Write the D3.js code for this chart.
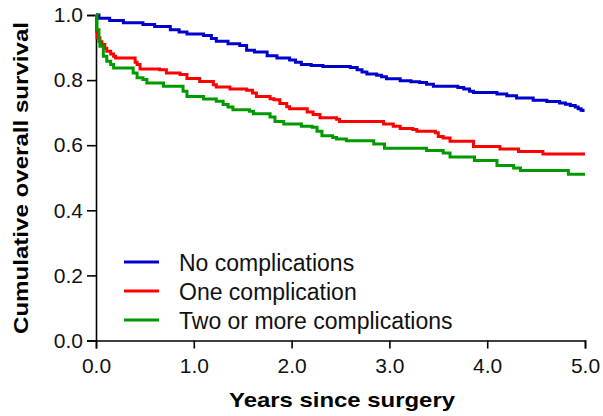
<!DOCTYPE html>
<html>
<head>
<meta charset="utf-8">
<script src="https://cdn.jsdelivr.net/npm/d3@7"></script>
<style>
  body { margin: 0; background: #fff; }
  text { font-family: "Liberation Sans", Arial, sans-serif; }
</style>
</head>
<body>
<script>
// Kaplan-Meier steps: [years, survival]
var noComp = [[0,1.0],[0.03,0.99],[0.14,0.983],[0.28,0.976],[0.48,0.971],[0.6,0.965],[0.76,0.955],[0.85,0.948],
	[0.93,0.942],[1.1,0.937],[1.18,0.928],[1.23,0.919],[1.35,0.912],[1.47,0.906],[1.54,0.892],[1.62,0.886],
	[1.75,0.875],[1.85,0.868],[1.98,0.862],[2.04,0.855],[2.1,0.848],[2.2,0.845],[2.32,0.842],[2.6,0.839],
	[2.67,0.832],[2.72,0.825],[2.77,0.819],[2.87,0.815],[2.92,0.81],[2.97,0.804],[3.11,0.798],[3.22,0.795],
	[3.31,0.793],[3.38,0.787],[3.45,0.781],[3.7,0.777],[3.76,0.773],[3.82,0.766],[3.86,0.762],[4.1,0.757],
	[4.2,0.752],[4.3,0.745],[4.47,0.738],[4.61,0.734],[4.74,0.730],[4.8,0.726],[4.85,0.722],[4.9,0.717],
	[4.93,0.712],[4.96,0.707],[4.98,0.702]];
var oneComp = [[0,1.0],[0.005,0.95],[0.01,0.93],[0.04,0.918],[0.06,0.909],[0.09,0.898],[0.11,0.889],[0.15,0.88],
	[0.18,0.873],[0.2,0.868],[0.4,0.855],[0.42,0.848],[0.45,0.834],[0.65,0.832],[0.72,0.822],[0.86,0.817],
	[0.93,0.805],[1.06,0.796],[1.2,0.786],[1.23,0.779],[1.37,0.773],[1.54,0.769],[1.6,0.760],[1.64,0.750],
	[1.78,0.743],[1.82,0.740],[1.88,0.728],[1.95,0.718],[1.98,0.712],[2.16,0.702],[2.22,0.694],[2.29,0.684],
	[2.46,0.680],[2.49,0.673],[2.94,0.665],[3.04,0.658],[3.11,0.651],[3.24,0.648],[3.28,0.643],[3.47,0.638],
	[3.50,0.627],[3.55,0.622],[3.62,0.612],[3.86,0.596],[4.13,0.588],[4.32,0.581],[4.57,0.573],[5.0,0.573]];
var twoComp = [[0,1.0],[0.01,0.955],[0.03,0.92],[0.04,0.904],[0.075,0.873],[0.11,0.858],[0.15,0.848],[0.18,0.837],
	[0.38,0.822],[0.42,0.807],[0.48,0.802],[0.52,0.791],[0.69,0.781],[0.89,0.766],[0.93,0.750],[1.1,0.742],
	[1.23,0.735],[1.3,0.725],[1.35,0.717],[1.4,0.709],[1.57,0.704],[1.61,0.697],[1.78,0.687],[1.83,0.673],
	[1.92,0.665],[2.1,0.658],[2.21,0.655],[2.26,0.643],[2.31,0.629],[2.42,0.624],[2.46,0.619],[2.56,0.614],
	[2.84,0.604],[2.95,0.591],[3.38,0.584],[3.55,0.576],[3.62,0.564],[3.87,0.553],[4.10,0.538],[4.27,0.530],
	[4.34,0.522],[4.83,0.511],[5.0,0.511]];

var seriesNames = ['No complications', 'One complication', 'Two or more complications'];
var seriesColors = ['#0000cd', '#ff0000', '#009a00'];
var xTicks = [0, 1, 2, 3, 4, 5];
var yTicks = [0, 0.2, 0.4, 0.6, 0.8, 1.0];

var width = 603, height = 416;
var margin = {top: 15, right: 18, bottom: 75.5, left: 96};

var svg = d3.select('body').append('svg')
	.attr('width', width)
	.attr('height', height);

var x = d3.scaleLinear().domain([0, 5]).range([margin.left, width - margin.right]);
var y = d3.scaleLinear().domain([0, 1]).range([height - margin.bottom, margin.top]);

// axes
var gx = svg.append('g')
	.attr('transform', 'translate(0,' + (height - margin.bottom) + ')')
	.call(d3.axisBottom(x).tickValues(xTicks).tickSize(8).tickPadding(10).tickFormat(d3.format('.1f')));
var gy = svg.append('g')
	.attr('transform', 'translate(' + margin.left + ',0)')
	.call(d3.axisLeft(y).tickValues(yTicks).tickSize(9).tickPadding(4).tickFormat(d3.format('.1f')));

[gx, gy].forEach(function(g) {
	g.selectAll('path, line').attr('stroke', '#000').attr('stroke-width', 1.6);
	g.selectAll('text').attr('font-size', 21).attr('fill', '#111')
		.attr('font-family', '"Liberation Sans", Arial, sans-serif');
});

// curves
var line = d3.line()
	.x(function(d) { return x(d[0]); })
	.y(function(d) { return y(d[1]); })
	.curve(d3.curveStepAfter);

var allSeries = [noComp, oneComp, twoComp];
svg.append('g').selectAll('path')
	.data(allSeries)
	.enter()
	.append('path')
	.attr('d', line)
	.attr('fill', 'none')
	.attr('stroke', function(d, i) { return seriesColors[i]; })
	.attr('stroke-width', 3);

// legend
var legend = svg.append('g').selectAll('g')
	.data(seriesNames)
	.enter()
	.append('g')
	.attr('transform', function(d, i) { return 'translate(124,' + (262 + i * 29) + ')'; });
legend.append('line')
	.attr('x1', 0).attr('x2', 35)
	.attr('stroke', function(d, i) { return seriesColors[i]; })
	.attr('stroke-width', 3);
legend.append('text')
	.attr('x', 55)
	.attr('y', 9)
	.attr('font-size', 23)
	.attr('fill', '#111')
	.text(function(d) { return d; });

// axis titles
svg.append('text')
	.attr('x', 342)
	.attr('y', 407)
	.attr('text-anchor', 'middle')
	.attr('font-size', 21)
	.attr('font-weight', 'bold')
	.attr('textLength', 226)
	.attr('lengthAdjust', 'spacingAndGlyphs')
	.text('Years since surgery');

svg.append('text')
	.attr('transform', 'translate(28,178) rotate(-90)')
	.attr('text-anchor', 'middle')
	.attr('font-size', 21)
	.attr('font-weight', 'bold')
	.attr('textLength', 312)
	.attr('lengthAdjust', 'spacingAndGlyphs')
	.text('Cumulative overall survival');
</script>
</body>
</html>
